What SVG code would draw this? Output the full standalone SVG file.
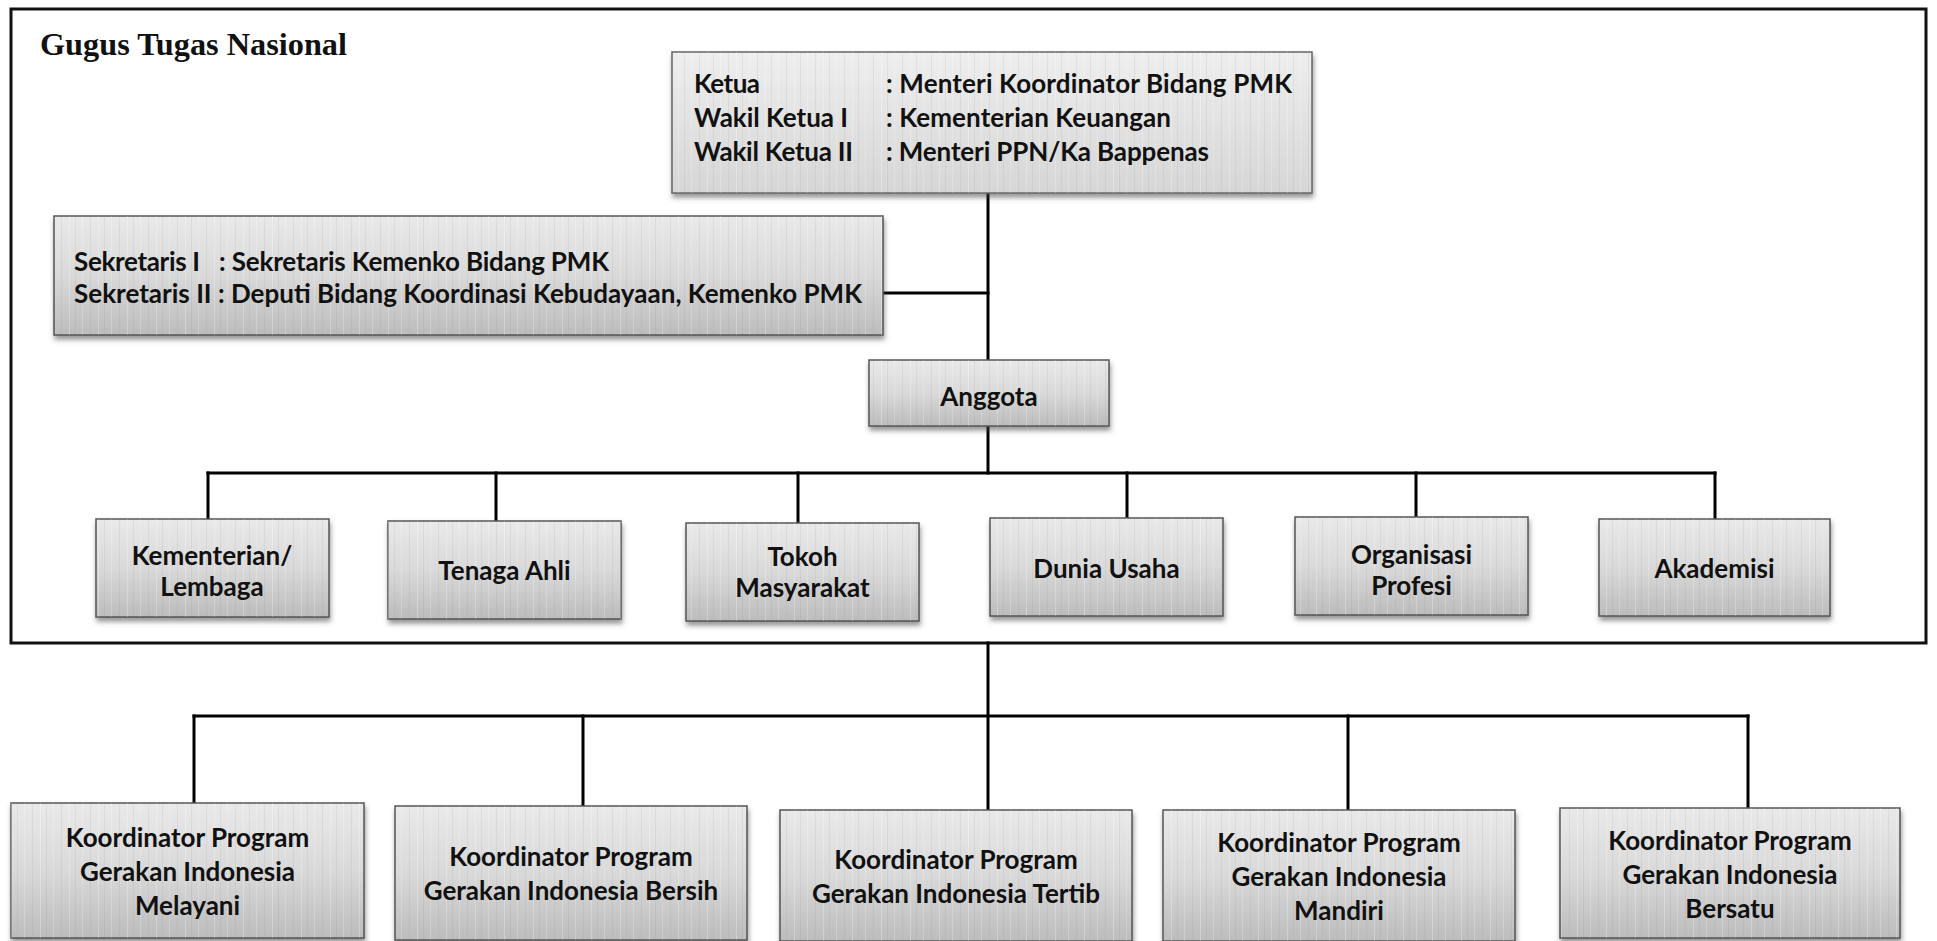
<svg xmlns="http://www.w3.org/2000/svg" width="1937" height="941" viewBox="0 0 1937 941">
<style>
.box{fill:url(#gbox);stroke:#555;stroke-width:1.5;filter:url(#sh)}
.boxl{fill:url(#glight);stroke:#666;stroke-width:1.5;filter:url(#sh)}
.tex{fill:url(#scan);stroke:none}
.t{font-family:Lato,"Liberation Sans",sans-serif;font-weight:700;font-size:26px;fill:#111}
.c{text-anchor:middle}
.ln{stroke:#000;stroke-width:3;fill:none;stroke-linecap:square}
.frame{fill:none;stroke:#111;stroke-width:3}
.title{font-family:"Liberation Serif",serif;font-weight:700;font-size:32.3px;fill:#111}
</style>
<defs>
<linearGradient id="gbox" x1="0" y1="0" x2="0" y2="1">
<stop offset="0" stop-color="#e9e9e9"/>
<stop offset="0.5" stop-color="#d9d9d9"/>
<stop offset="1" stop-color="#bcbcbc"/>
</linearGradient>
<linearGradient id="glight" x1="0" y1="0" x2="0" y2="1">
<stop offset="0" stop-color="#eeeeee"/>
<stop offset="1" stop-color="#d6d6d6"/>
</linearGradient>
<pattern id="scan" patternUnits="userSpaceOnUse" width="29" height="12">
<rect x="3" y="0" width="1" height="12" fill="#888" opacity="0.12"/>
<rect x="11" y="0" width="1" height="12" fill="#fff" opacity="0.25"/>
<rect x="17" y="0" width="1" height="12" fill="#777" opacity="0.10"/>
<rect x="24" y="0" width="1" height="12" fill="#fff" opacity="0.2"/>
</pattern>
<filter id="sh" x="-5%" y="-10%" width="115%" height="130%">
<feDropShadow dx="1" dy="4" stdDeviation="2.5" flood-color="#444" flood-opacity="0.55"/>
</filter>
</defs>
<rect width="1937" height="941" fill="#fff"/>

<g id="frame">
<rect class="frame" x="11" y="9" width="1915" height="634"/>
<text class="title" x="40" y="55">Gugus Tugas Nasional</text>
</g>

<g id="connectors">
<path class="ln" d="M988,193 V360"/>
<path class="ln" d="M883,293 H988"/>
<path class="ln" d="M988,426 V473"/>
<path class="ln" d="M208,473 H1715"/>
<path class="ln" d="M208,473 V519 M496,473 V521 M798,473 V523 M1127,473 V518 M1416,473 V517 M1715,473 V519"/>
<path class="ln" d="M988,643 V810"/>
<path class="ln" d="M194,716 H1748"/>
<path class="ln" d="M194,716 V803 M583,716 V806 M1348,716 V810 M1748,716 V808"/>
</g>

<g id="ketua">
<rect class="boxl" x="672" y="52" width="640" height="141"/>
<rect class="tex" x="672" y="52" width="640" height="141"/>
<text class="t" x="694" y="93" textLength="66">Ketua</text>
<text class="t" x="886" y="93" textLength="406">: Menteri Koordinator Bidang PMK</text>
<text class="t" x="694" y="127" textLength="154">Wakil Ketua I</text>
<text class="t" x="886" y="127" textLength="285">: Kementerian Keuangan</text>
<text class="t" x="694" y="161" textLength="159">Wakil Ketua II</text>
<text class="t" x="886" y="161" textLength="323">: Menteri PPN/Ka Bappenas</text>
</g>

<g id="sekretaris">
<rect class="box" x="54" y="216" width="829" height="119"/>
<rect class="tex" x="54" y="216" width="829" height="119"/>
<text class="t" x="74" y="271" textLength="126">Sekretaris I</text>
<text class="t" x="219" y="271" textLength="390">: Sekretaris Kemenko Bidang PMK</text>
<text class="t" x="74" y="303" textLength="788">Sekretaris II : Deputi Bidang Koordinasi Kebudayaan, Kemenko PMK</text>
</g>

<g id="anggota">
<rect class="box" x="869" y="360" width="240" height="66"/>
<rect class="tex" x="869" y="360" width="240" height="66"/>
<text class="t c" x="989" y="406">Anggota</text>
</g>

<g id="kementerian">
<rect class="box" x="96" y="519" width="233" height="98"/>
<rect class="tex" x="96" y="519" width="233" height="98"/>
<text class="t c" x="212" y="565">Kementerian/</text>
<text class="t c" x="212" y="596">Lembaga</text>
</g>

<g id="tenaga-ahli">
<rect class="box" x="388" y="521" width="233" height="98"/>
<rect class="tex" x="388" y="521" width="233" height="98"/>
<text class="t c" x="504.5" y="580">Tenaga Ahli</text>
</g>

<g id="tokoh-masyarakat">
<rect class="box" x="686" y="523" width="233" height="98"/>
<rect class="tex" x="686" y="523" width="233" height="98"/>
<text class="t c" x="802.5" y="566">Tokoh</text>
<text class="t c" x="802.5" y="597">Masyarakat</text>
</g>

<g id="dunia-usaha">
<rect class="box" x="990" y="518" width="233" height="98"/>
<rect class="tex" x="990" y="518" width="233" height="98"/>
<text class="t c" x="1106.5" y="578">Dunia Usaha</text>
</g>

<g id="organisasi-profesi">
<rect class="box" x="1295" y="517" width="233" height="98"/>
<rect class="tex" x="1295" y="517" width="233" height="98"/>
<text class="t c" x="1411.5" y="564">Organisasi</text>
<text class="t c" x="1411.5" y="595">Profesi</text>
</g>

<g id="akademisi">
<rect class="box" x="1599" y="519" width="231" height="97"/>
<rect class="tex" x="1599" y="519" width="231" height="97"/>
<text class="t c" x="1714.5" y="578">Akademisi</text>
</g>

<g id="melayani">
<rect class="box" x="11" y="803" width="353" height="135"/>
<rect class="tex" x="11" y="803" width="353" height="135"/>
<text class="t c" x="187.5" y="847">Koordinator Program</text>
<text class="t c" x="187.5" y="881">Gerakan Indonesia</text>
<text class="t c" x="187.5" y="915">Melayani</text>
</g>

<g id="bersih">
<rect class="box" x="395" y="806" width="352" height="134"/>
<rect class="tex" x="395" y="806" width="352" height="134"/>
<text class="t c" x="571" y="866">Koordinator Program</text>
<text class="t c" x="571" y="900">Gerakan Indonesia Bersih</text>
</g>

<g id="tertib">
<rect class="box" x="780" y="810" width="352" height="131"/>
<rect class="tex" x="780" y="810" width="352" height="131"/>
<text class="t c" x="956" y="869">Koordinator Program</text>
<text class="t c" x="956" y="903">Gerakan Indonesia Tertib</text>
</g>

<g id="mandiri">
<rect class="box" x="1163" y="810" width="352" height="131"/>
<rect class="tex" x="1163" y="810" width="352" height="131"/>
<text class="t c" x="1339" y="852">Koordinator Program</text>
<text class="t c" x="1339" y="886">Gerakan Indonesia</text>
<text class="t c" x="1339" y="920">Mandiri</text>
</g>

<g id="bersatu">
<rect class="box" x="1560" y="808" width="340" height="130"/>
<rect class="tex" x="1560" y="808" width="340" height="130"/>
<text class="t c" x="1730" y="850">Koordinator Program</text>
<text class="t c" x="1730" y="884">Gerakan Indonesia</text>
<text class="t c" x="1730" y="918">Bersatu</text>
</g>
</svg>
